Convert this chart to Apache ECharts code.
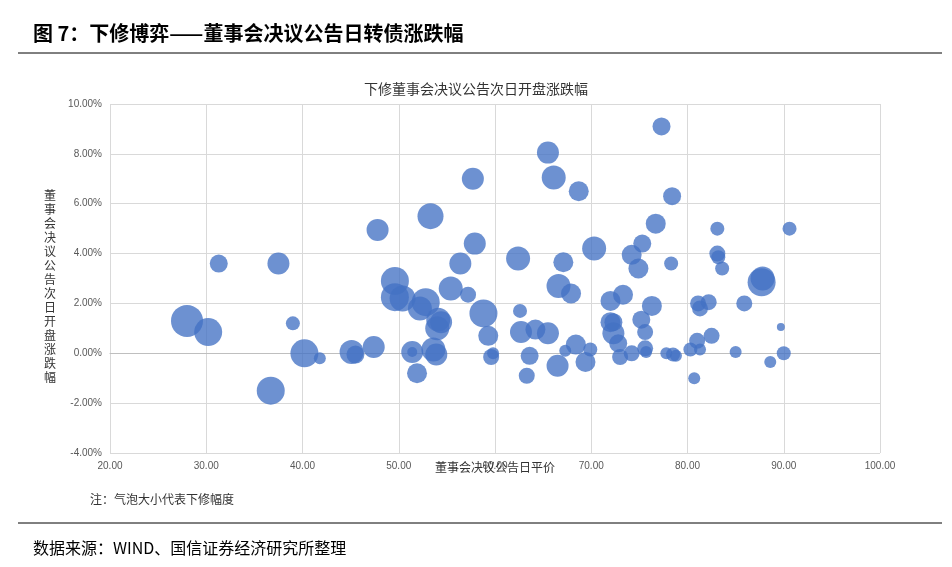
<!DOCTYPE html><html><head><meta charset="utf-8"><script src="https://cdn.jsdelivr.net/npm/echarts@6/dist/echarts.min.js"></script>
<style>body{margin:0;background:#fff}#c{width:952px;height:567px}</style></head><body><div id="c"></div><script>
const xs=[28.0,30.2,31.3,37.5,39.0,36.7,40.2,41.8,45.1,45.5,47.4,47.8,49.6,49.6,50.4,51.4,51.4,51.9,52.2,52.8,53.3,53.6,53.9,54.1,54.4,54.0,55.4,56.4,57.2,57.7,57.9,58.8,59.3,59.6,59.8,62.4,62.6,62.7,63.6,63.3,64.2,65.5,65.5,66.1,66.5,66.6,67.1,67.3,67.9,68.4,68.7,69.4,69.9,70.3,72.0,72.0,72.3,72.3,72.8,73.0,73.3,74.2,74.2,74.9,75.3,75.2,75.6,75.6,75.7,76.3,76.7,77.3,77.8,78.4,78.3,78.5,78.8,80.3,81.0,81.1,81.3,81.3,82.2,82.5,83.1,83.1,83.2,83.6,85.0,85.9,87.7,87.8,88.6,89.7,90.0,90.6,80.7];
const ys=[1.3,0.85,3.6,3.6,1.2,-1.5,0,-0.2,0.05,-0.05,0.25,4.95,2.9,2.25,2.2,0.05,0.05,-0.8,1.8,2.05,5.5,0.15,-0.05,1.35,1.25,1.0,2.6,3.6,2.35,7.0,4.4,1.6,0.7,-0.15,0,3.8,1.7,0.85,-0.1,-0.9,0.95,0.8,8.05,7.05,-0.5,2.7,3.65,0.1,2.4,0.35,6.5,-0.35,0.15,4.2,2.1,1.25,0.8,1.25,0.4,-0.15,2.35,0,3.95,3.4,4.4,1.35,0.85,0.2,0.05,1.9,5.2,9.1,0,6.3,3.6,-0.05,-0.1,0.15,0.5,2.0,1.8,0.15,2.05,0.7,5.0,4.0,3.85,3.4,0.05,2.0,2.85,3.0,-0.35,1.05,0,5.0,-1.0];
const sizes=[16,14,9,11,7,14,14,6,12,9,11,11,14,14,13,11,5,10,12,14,13,12,11,12,11,12,12,11,8,11,11,14,10,8,6,12,7,11,9,8,10,11,11,12,11,12,10,6,10,10,10,10,7,12,10,10,11,9,9,8,10,8,10,10,9,9,8,8,6,10,10,9,6,9,7,7,6,7,8,8,8,6,8,8,7,8,7,7,6,8,14,12,6,4,7,7,6];
const data=xs.map((x,i)=>[x,ys[i],sizes[i]]);
const ch=echarts.init(document.getElementById('c'));
const f='"Noto Sans CJK SC", sans-serif';
ch.setOption({
animation:false,
title:[{text:'图 7：下修博弈——董事会决议公告日转债涨跌幅',left:28,top:18,textStyle:{fontFamily:f,fontSize:20,fontWeight:'bold',color:'#000'}},
{text:'下修董事会决议公告次日开盘涨跌幅',left:'center',top:77,textStyle:{fontFamily:f,fontSize:14,fontWeight:'normal',color:'#333'}},
{text:'董事会决议公告日平价',left:430,top:456,textStyle:{fontFamily:f,fontSize:12,fontWeight:'normal',color:'#333'}},
{text:'注：气泡大小代表下修幅度',left:85,top:488,textStyle:{fontFamily:f,fontSize:12,fontWeight:'normal',color:'#333'}},
{text:'数据来源：WIND、国信证券经济研究所整理',left:28,top:535,textStyle:{fontFamily:f,fontSize:16,fontWeight:'normal',color:'#000'}}],
graphic:[{type:'line',shape:{x1:18,y1:53,x2:942,y2:53},style:{stroke:'#000',lineWidth:1}},
{type:'line',shape:{x1:18,y1:523,x2:942,y2:523},style:{stroke:'#000',lineWidth:1}},
{type:'text',left:44,top:188,style:{text:'董\n事\n会\n决\n议\n公\n告\n次\n日\n开\n盘\n涨\n跌\n幅',font:'12px '+f,fill:'#333',lineHeight:14}}],
grid:{left:110,right:72,top:104,bottom:114},
xAxis:{type:'value',min:20,max:100,interval:10,axisLine:{show:true,onZero:true,lineStyle:{color:'#bfbfbf'}},axisTick:{show:false},
axisLabel:{formatter:v=>v.toFixed(2),color:'#595959',fontSize:10},splitLine:{lineStyle:{color:'#d9d9d9'}}},
yAxis:{type:'value',min:-4,max:10,interval:2,axisLine:{show:false},axisTick:{show:false},
axisLabel:{formatter:v=>v.toFixed(2)+'%',color:'#595959',fontSize:10},splitLine:{lineStyle:{color:'#d9d9d9'}}},
series:[{type:'scatter',data:data,symbolSize:d=>d[2]*2,itemStyle:{color:'#4472C4',opacity:0.78}}]
});
</script></body></html>
